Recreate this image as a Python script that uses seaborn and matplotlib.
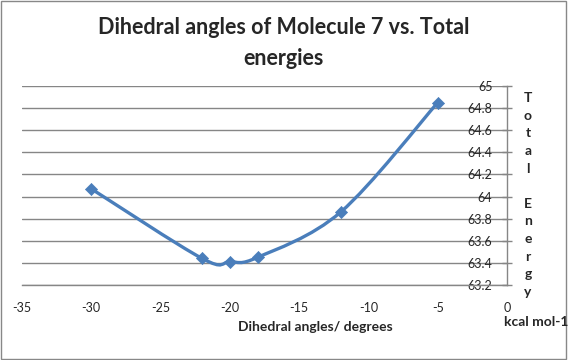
#!/usr/bin/env python3
"""Dihedral angle scan of Molecule 7 against total energy (Excel-style smoothed line)."""

import numpy as np
import pandas as pd
import seaborn as sns
import matplotlib.pyplot as plt
from matplotlib.path import Path
from matplotlib.patches import PathPatch, Rectangle


ANGLES = [-30, -22, -20, -18, -12, -5]
ENERGIES = [64.07, 63.44, 63.41, 63.45, 63.86, 64.85]
X_TICKS = [-35, -30, -25, -20, -15, -10, -5, 0]
Y_TICKS = [63.2, 63.4, 63.6, 63.8, 64.0, 64.2, 64.4, 64.6, 64.8, 65.0]
Y_TICK_LABELS = ["63.2", "63.4", "63.6", "63.8", "64", "64.2", "64.4", "64.6", "64.8", "65"]

BLUE = "#4A7EBB"
GRID = "#868686"


def smooth_path(xs, ys):
    # Excel-like smoothing: cubic Bezier segments with Catmull-Rom control points
    pts = np.column_stack([xs, ys]).astype(float)
    padded = np.vstack([pts[0], pts, pts[-1]])
    verts = [pts[0]]
    codes = [Path.MOVETO]
    for i in range(1, len(padded) - 2):
        p0, p1, p2, p3 = padded[i - 1], padded[i], padded[i + 1], padded[i + 2]
        verts += [p1 + (p2 - p0) / 6, p2 - (p3 - p1) / 6, p2]
        codes += [Path.CURVE4] * 3
    return Path(verts, codes)


def main():
    df = pd.DataFrame({"angle": ANGLES, "energy": ENERGIES})

    sns.set_theme(style="white")
    plt.rcParams["font.family"] = ["Lato", "DejaVu Sans"]

    fig = plt.figure(figsize=(5.68, 3.60), dpi=100)
    ax = fig.add_axes([22 / 568, 1 - 285 / 360, (507 - 22) / 568, (285 - 86) / 360])

    ax.add_patch(PathPatch(smooth_path(df["angle"], df["energy"]), facecolor="none",
                           edgecolor=BLUE, lw=2.4, zorder=3, capstyle="round"))
    sns.scatterplot(data=df, x="angle", y="energy", marker="D", s=38, color=BLUE,
                    edgecolor=BLUE, linewidth=0.5, zorder=4, ax=ax)

    ax.set_xlim(-35, 0)
    ax.set_ylim(63.2, 65)
    ax.set_xticks(X_TICKS)
    ax.set_xticklabels([str(v) for v in X_TICKS], fontsize=9)
    ax.set_yticks(Y_TICKS)
    ax.set_yticklabels(Y_TICK_LABELS, fontsize=9)

    ax.yaxis.tick_right()
    ax.tick_params(axis="y", direction="inout", length=7, width=1, color=GRID, pad=-14)
    for lab in ax.get_yticklabels():
        lab.set_horizontalalignment("right")
    ax.tick_params(axis="x", direction="out", length=4, width=1, color=GRID, pad=8)

    ax.grid(axis="y", color=GRID, lw=1)
    ax.grid(axis="x", visible=False)
    for side in ("left", "top"):
        ax.spines[side].set_visible(False)
    for side in ("right", "bottom"):
        ax.spines[side].set_color(GRID)
        ax.spines[side].set_linewidth(1)
    ax.set_xlabel("")
    ax.set_ylabel("")

    fig.text(0.5, 1 - 43 / 360, "Dihedral angles of Molecule 7 vs. Total\nenergies",
             ha="center", va="center", fontsize=15.5, fontweight="bold", linespacing=1.55)
    fig.text(315 / 568, 1 - 327 / 360, "Dihedral angles/ degrees", ha="center", va="center",
             fontsize=10, fontweight="bold")
    fig.text(528 / 568, 1 - 195 / 360, "T\no\nt\na\nl\n\nE\nn\ne\nr\ng\ny", ha="center",
             va="center", fontsize=10, fontweight="bold", linespacing=1.56)
    fig.text(504 / 568, 1 - 322 / 360, "kcal mol-1", ha="left", va="center",
             fontsize=10, fontweight="bold")

    fig.patches.append(Rectangle((0.002, 0.003), 0.995, 0.993, transform=fig.transFigure,
                                 fill=False, edgecolor="#888888", lw=1))

    fig.savefig("out.png", dpi=100)


if __name__ == "__main__":
    main()
